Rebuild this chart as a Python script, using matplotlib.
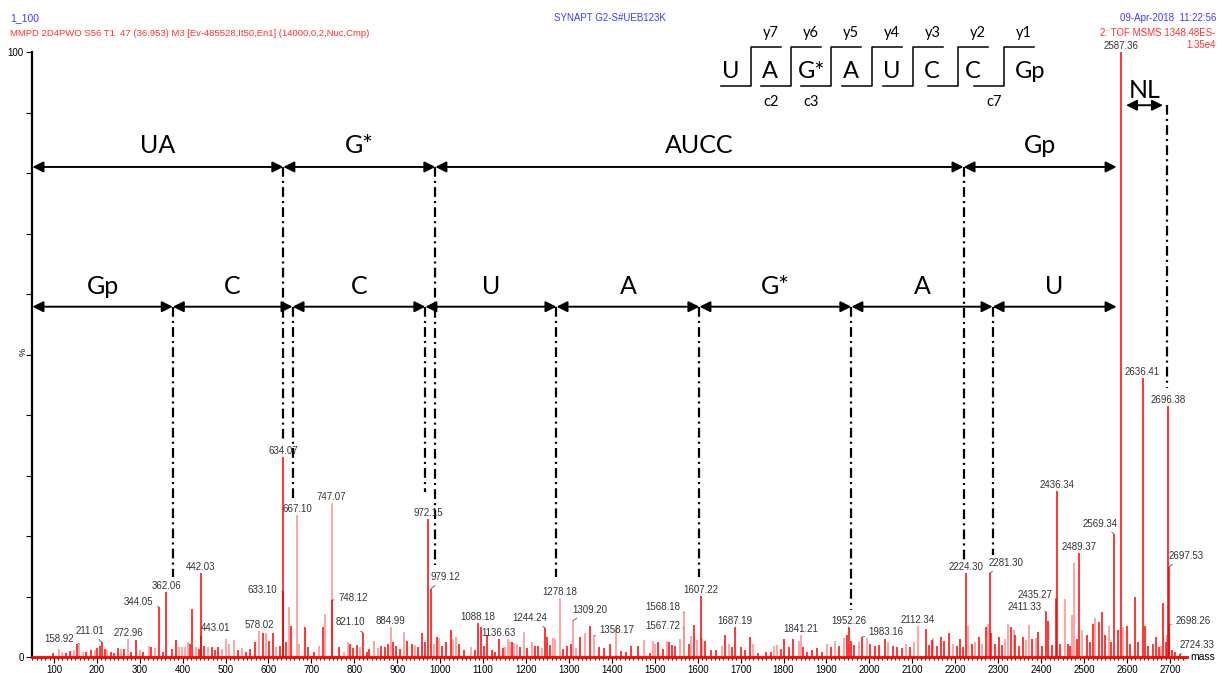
import matplotlib.pyplot as plt
from matplotlib.lines import Line2D

plt.rcParams['font.family'] = ['Liberation Sans', 'DejaVu Sans']
plt.rcParams['lines.scale_dashes'] = False

# labelled peaks (m/z, relative intensity %)
label_mz = [158.92, 211.01, 272.96, 344.05, 362.06, 442.03, 443.01, 578.02, 633.10, 634.07,
            667.10, 747.07, 748.12, 821.10, 884.99, 972.15, 979.12, 1088.18, 1136.63, 1244.24,
            1278.18, 1309.20, 1358.17, 1567.72, 1568.18, 1607.22, 1687.19, 1841.21, 1952.26,
            1983.16, 2112.34, 2224.30, 2281.30, 2411.33, 2435.27, 2436.34, 2489.37, 2569.34,
            2587.36, 2636.41, 2696.38, 2697.53, 2698.26, 2724.33]
label_int = [2.2, 2.5, 3.0, 8.3, 10.7, 13.9, 3.5, 4.3, 10.8, 33.0,
             23.5, 25.5, 9.4, 3.9, 5.0, 22.8, 11.3, 5.6, 2.9, 4.8,
             9.8, 6.0, 3.5, 4.8, 7.4, 10.1, 4.9, 3.7, 5.0,
             3.3, 5.1, 13.9, 13.9, 7.5, 9.6, 27.4, 17.2, 20.4,
             100.0, 46.1, 41.5, 14.9, 5.3, 0.5]

# unlabelled peaks
peak_mz = [97.7, 111.6, 119.4, 128.7, 136.5, 148, 153.5, 167.6, 175.4, 187, 194.8, 201, 206.5,
           218, 224.3, 232, 240, 249.3, 257, 263.3, 280.4, 292, 299.8, 307.5, 320.7, 326.9,
           334.7, 354.5, 376.3, 385.6, 391.8, 398, 405, 411.3, 416.7, 422.9, 430.6, 437, 450,
           458, 468, 475, 482.6, 491, 500.3, 508, 519.7, 528, 539, 548, 558, 567.4, 586.8,
           595.3, 602.3, 610.1, 617, 626.1, 640, 647.2, 652.6, 672, 685, 692, 705, 717, 726,
           731, 765, 775, 785.8, 789.6, 797, 806.8, 813, 829, 835, 846.6, 855, 862, 871,
           877.6, 890.8, 898, 906, 916.5, 922, 933.6, 941.4, 948, 956.9, 964.7, 986, 992.4,
           997.8, 1004, 1014, 1025, 1031, 1037, 1044, 1055, 1072, 1080, 1094, 1101, 1110,
           1120, 1128, 1146, 1151, 1157, 1162, 1167, 1173, 1179, 1187, 1194.5, 1203, 1213,
           1221, 1229, 1237, 1249, 1256, 1263, 1268, 1286, 1296, 1305, 1316, 1325.8, 1337.5,
           1349, 1370, 1382, 1395, 1410, 1422, 1432, 1445, 1460, 1474, 1488, 1495.5, 1501,
           1507, 1518, 1528, 1532, 1540, 1548, 1559, 1579, 1585, 1592, 1599, 1611, 1617,
           1630, 1643, 1656, 1664.7, 1673, 1681, 1700, 1710, 1722, 1730, 1740, 1760, 1770,
           1778.6, 1784, 1793, 1801, 1812, 1822.4, 1835.6, 1846, 1855, 1866, 1878, 1890,
           1901, 1910, 1920.3, 1930, 1942, 1947.5, 1958, 1965, 1975, 1993.5, 2002, 2012,
           2022, 2036, 2044, 2055, 2065, 2075, 2085, 2095, 2104, 2131.7, 2140, 2147, 2149,
           2158, 2166, 2175, 2185.8, 2195, 2203, 2210, 2217, 2230.5, 2240, 2247, 2254.7,
           2262, 2272, 2276, 2283.6, 2292, 2301.3, 2308, 2315, 2323, 2330.6, 2336, 2340,
           2348, 2357.2, 2364, 2372.7, 2380, 2388, 2393, 2402, 2417, 2425, 2444, 2455,
           2462, 2468, 2472, 2476, 2484, 2495, 2506.4, 2514, 2522, 2526, 2534.7, 2541, 2549,
           2558, 2563, 2580, 2592, 2600, 2608, 2618.2, 2625, 2641, 2650, 2660, 2667.8, 2675,
           2679.5, 2683, 2690, 2693, 2704, 2712]
peak_int = [0.7, 1.4, 0.9, 0.7, 1.0, 1.1, 2.1, 0.9, 0.9, 1.1, 1.1, 1.5, 1.8,
            1.3, 1.1, 0.9, 0.7, 1.5, 1.3, 1.4, 0.8, 2.75, 1.1, 0.8, 1.9, 1.65,
            1.5, 0.8, 1.4, 2.75, 1.65, 1.65, 1.65, 2.5, 2.2, 7.9, 1.65, 1.4, 1.9,
            1.6, 1.65, 1.1, 1.65, 1.3, 3.0, 2.2, 2.75, 1.1, 1.5, 0.8, 1.4, 2.5, 4.0,
            3.9, 2.6, 4.0, 1.6, 1.9, 2.5, 8.3, 5.2, 2.2, 5.0, 1.6, 0.9, 1.8, 5.0,
            7.1, 1.6, 0.9, 2.5, 2.2, 1.5, 2.0, 1.6, 0.9, 1.4, 2.6, 1.5, 1.9, 1.6,
            2.2, 2.5, 1.9, 1.3, 4.2, 2.6, 2.2, 2.0, 1.6, 4.0, 2.5, 2.2, 3.3,
            3.1, 1.9, 2.5, 4.4, 2.9, 3.25, 2.2, 1.1, 1.65, 1.1, 5.0, 1.9, 3.6,
            1.1, 0.9, 1.5, 1.6, 2.9, 2.5, 2.5, 2.3, 2.2, 1.6, 4.2, 1.5, 2.4,
            1.9, 1.9, 1.5, 3.3, 2.0, 3.1, 3.0, 1.4, 1.9, 2.2, 1.5, 3.3, 3.9,
            5.2, 1.6, 1.5, 2.2, 5.0, 1.0, 0.8, 1.9, 1.9, 2.75, 0.6, 2.6, 2.2,
            2.5, 1.3, 2.6, 2.5, 2.0, 1.8, 3.0, 2.2, 3.5, 5.3, 2.75, 3.1, 2.6,
            1.1, 1.1, 1.8, 3.6, 2.2, 1.6, 1.6, 1.1, 3.3, 2.2, 0.7, 0.8, 0.9,
            1.8, 2.0, 1.3, 3.0, 1.6, 2.9, 2.6, 1.6, 0.8, 1.1, 1.5, 0.9,
            2.2, 1.6, 2.6, 1.9, 3.1, 3.7, 2.6, 2.0, 2.5, 3.1, 2.2, 1.9,
            2.0, 2.9, 2.5, 1.9, 1.6, 1.5, 2.2, 1.6, 2.5, 4.7, 2.0, 2.75, 3.1,
            1.8, 3.3, 2.6, 3.9, 2.2, 1.9, 3.0, 1.6, 5.2, 2.2, 2.5, 3.3,
            2.2, 5.0, 5.5, 3.9, 2.2, 3.3, 2.0, 3.0, 5.5, 5.0, 4.4, 3.6,
            1.9, 3.3, 2.75, 5.3, 3.0, 3.1, 4.1, 1.9, 6.0, 2.0, 2.2, 9.6,
            2.2, 1.9, 6.9, 15.5, 3.0, 4.4, 3.7, 2.5, 5.5, 6.4, 5.8, 7.5, 3.6,
            5.2, 2.5, 4.4, 5.0, 5.2, 2.2, 9.9, 2.5, 5.2, 1.9, 2.2, 3.3, 1.6,
            1.9, 9.0, 2.5, 3.6, 1.1, 0.8]

# peaks that render in the paler red
light_mz = {158.92, 272.96, 578.02, 667.10, 747.07, 884.99, 1278.18, 1309.20, 1358.17,
            1567.72, 1568.18, 1841.21, 2112.34,
            111.6, 119.4, 148, 167.6, 194.8, 224.3, 257, 299.8, 320.7, 334.7, 391.8, 398,
            405, 411.3, 430.6, 458, 491, 500.3, 508, 519.7, 539, 595.3, 617, 647.2, 672,
            717, 731, 775, 785.8, 813, 846.6, 855, 916.5, 941.4, 986, 997.8, 1031, 1037,
            1072, 1151, 1157, 1162, 1173, 1179, 1194.5, 1213, 1237, 1263, 1268, 1316,
            1337.5, 1410, 1474, 1495.5, 1501, 1528, 1559, 1585, 1599, 1611, 1656, 1673,
            1730, 1778.6, 1784, 1835.6, 1901, 1920.3, 1942, 1975, 1993.5, 2044, 2085, 2104,
            2149, 2195, 2230.5, 2247, 2262, 2276, 2315, 2323, 2336, 2364, 2372.7, 2388,
            2455, 2472, 2476, 2495, 2526, 2558, 2592, 2679.5, 2693}

# label offsets (pixels) for labels pushed aside with a leader line
leader_offsets = {158.92: (-20, 5), 211.01: (-12, 11), 344.05: (-20, 5), 443.01: (14, 8),
                  633.10: (-20, 2), 748.12: (21, 2), 821.10: (-13, 11), 979.12: (14, 12),
                  1244.24: (-15, 10), 1309.20: (17, 11), 1358.17: (23, 6),
                  1567.72: (-21, 2), 1568.18: (-21, 5), 1983.16: (24, 5), 2281.30: (16, 10),
                  2411.33: (-21, 5), 2435.27: (-21, 4), 2569.34: (-14, 10),
                  2697.53: (17, 11), 2698.26: (24, 4), 2724.33: (17, 9)}

# fragment annotation (cleavage positions on the m/z axis)
top_cuts = [634.6, 988.8, 2219.3]
top_names = ['UA', 'G*', 'AUCC', 'Gp']
top_drop = [35.9, 15.2, 15.8]
bottom_cuts = [377, 656, 965.5, 1271, 1604, 1958, 2287]
bottom_names = ['Gp', 'C', 'C', 'U', 'A', 'G*', 'A', 'U']
bottom_drop = [13.3, 25.7, 27.3, 13.3, 13.3, 7.8, 16.9]
span_start, span_end = 50, 2576
nl_start, nl_end, nl_cut, nl_drop = 2598, 2684, 2693, 44.5

residues = ['U', 'A', 'G*', 'A', 'U', 'C', 'C', 'Gp']
y_ions = ['y7', 'y6', 'y5', 'y4', 'y3', 'y2', 'y1']
c_ions = {0: 'c2', 1: 'c3', 6: 'c7'}

W, H = 1222, 673
fig = plt.figure(figsize=(W / 100, H / 100), dpi=100)
ax = fig.add_axes([32 / W, 1 - 657 / H, 1155 / W, 605 / H])

RED = '#ff0000'
PINK = '#ff8c8c'

all_mz = peak_mz + label_mz
all_int = peak_int + label_int
light = [(m, i) for m, i in zip(all_mz, all_int) if m in light_mz]
dark = [(m, i) for m, i in zip(all_mz, all_int) if m not in light_mz]
ax.vlines([m for m, _ in light], 0, [i for _, i in light], colors=PINK, lw=1.1)
ax.vlines([m for m, _ in dark], 0, [i for _, i in dark], colors=RED, lw=1.1)

for mz, inten in zip(label_mz, label_int):
    if mz in leader_offsets:
        ax.annotate(f'{mz:.2f}', (mz, inten), xytext=leader_offsets[mz],
                    textcoords='offset pixels', ha='center', va='center', fontsize=7,
                    color='#333333', annotation_clip=False,
                    arrowprops=dict(arrowstyle='-', lw=0.6, color='#555555',
                                    shrinkA=1, shrinkB=0))
    else:
        ax.annotate(f'{mz:.2f}', (mz, inten), xytext=(0, 6),
                    textcoords='offset pixels', ha='center', va='center', fontsize=7,
                    color='#333333', annotation_clip=False)

ax.set_xlim(49, 2740)
ax.set_ylim(0, 100)
ax.spines['top'].set_visible(False)
ax.spines['right'].set_visible(False)
ax.spines['left'].set_linewidth(1.6)
ax.spines['bottom'].set_color(RED)
ax.spines['bottom'].set_linewidth(2)
ax.set_xticks(range(100, 2701, 100))
ax.set_xticks(range(50, 2740, 10), minor=True)
ax.set_yticks(range(0, 101, 10))
ax.set_yticklabels(['0'] + [''] * 9 + ['100'])
ax.tick_params(axis='both', which='major', labelsize=7, length=4, width=0.8,
               color='black', pad=2)
ax.tick_params(axis='x', which='minor', length=2.5, width=0.6)
ax.text(1.003, 0, 'mass', transform=ax.transAxes, fontsize=7.5, ha='left', va='center')

# fragment arrows and cut lines
ann_font = dict(family=['Lato', 'DejaVu Sans'], fontsize=18, ha='center', va='center')
dashdot = dict(color='black', lw=1.6, dashes=(7, 3, 1.5, 3))
arrow = dict(arrowstyle='<|-|>', color='black', lw=1.4, mutation_scale=16,
             shrinkA=0, shrinkB=0)


def fragment_row(cuts, names, drops, y_arrow, y_text):
    edges = [span_start] + cuts + [span_end]
    for a, b, name in zip(edges[:-1], edges[1:], names):
        ax.annotate('', xy=(b, y_arrow), xytext=(a, y_arrow), arrowprops=arrow,
                    annotation_clip=False)
        ax.text((a + b) / 2, y_text, name, **ann_font)
    for c, d in zip(cuts, drops):
        ax.plot([c, c], [y_arrow, d], **dashdot)


fragment_row(top_cuts, top_names, top_drop, 81.0, 84.6)
fragment_row(bottom_cuts, bottom_names, bottom_drop, 57.9, 61.3)

ax.annotate('', xy=(nl_end, 91.2), xytext=(nl_start, 91.2), arrowprops=arrow,
            annotation_clip=False)
ax.text((nl_start + nl_end) / 2, 93.6, 'NL', **ann_font)
ax.plot([nl_cut, nl_cut], [91.2, nl_drop], **dashdot)


# sequence ladder (figure pixel layout)
def fx(x):
    return x / W


def fy(y):
    return 1 - y / H


letter_x = [731, 770, 812, 851, 892, 932, 973, 1030]
step_x = [750.7, 790.7, 830.7, 871.7, 912.7, 958.3, 1004]
for x, res in zip(letter_x, residues):
    fig.text(fx(x), fy(72), res, fontsize=17, ha='center', va='center',
             family=['Lato', 'DejaVu Sans'])
for i, x in enumerate(step_x):
    fig.add_artist(Line2D([fx(x - 30), fx(x), fx(x), fx(x + 30)],
                          [fy(86), fy(86), fy(46.5), fy(46.5)],
                          color='black', lw=1.1, transform=fig.transFigure))
    fig.text(fx(x + 20), fy(33), y_ions[i], fontsize=10.5, ha='center', va='center',
             family=['Lato', 'DejaVu Sans'])
    if i in c_ions:
        fig.text(fx(x - 10 if i == 6 else x + 20), fy(102), c_ions[i], fontsize=10.5,
                 ha='center', va='center', family=['Lato', 'DejaVu Sans'])

# instrument header
BLUE = '#3c3cff'
HRED = '#ff3030'
fig.text(fx(10), fy(18), '1_100', fontsize=7.5, color=BLUE, va='center')
fig.text(fx(10), fy(33), 'MMPD 2D4PWO S56 T1  47 (36.953) M3 [Ev-485528,It50,En1] '
         '(14000.0,2,Nuc,Cmp)', fontsize=6.8, color=HRED, va='center')
fig.text(fx(610), fy(18), 'SYNAPT G2-S#UEB123K', fontsize=7, color=BLUE,
         ha='center', va='center')
fig.text(fx(1216), fy(18), '09-Apr-2018  11:22:56', fontsize=7, color=BLUE,
         ha='right', va='center')
fig.text(fx(1216), fy(33), '2: TOF MSMS 1348.48ES-', fontsize=7, color=HRED,
         ha='right', va='center')
fig.text(fx(1216), fy(45), '1.35e4', fontsize=7, color=HRED, ha='right', va='center')
fig.text(fx(23), fy(352), '%', fontsize=6.5, rotation=90, ha='center', va='center')

fig.savefig('out.png', dpi=100)
